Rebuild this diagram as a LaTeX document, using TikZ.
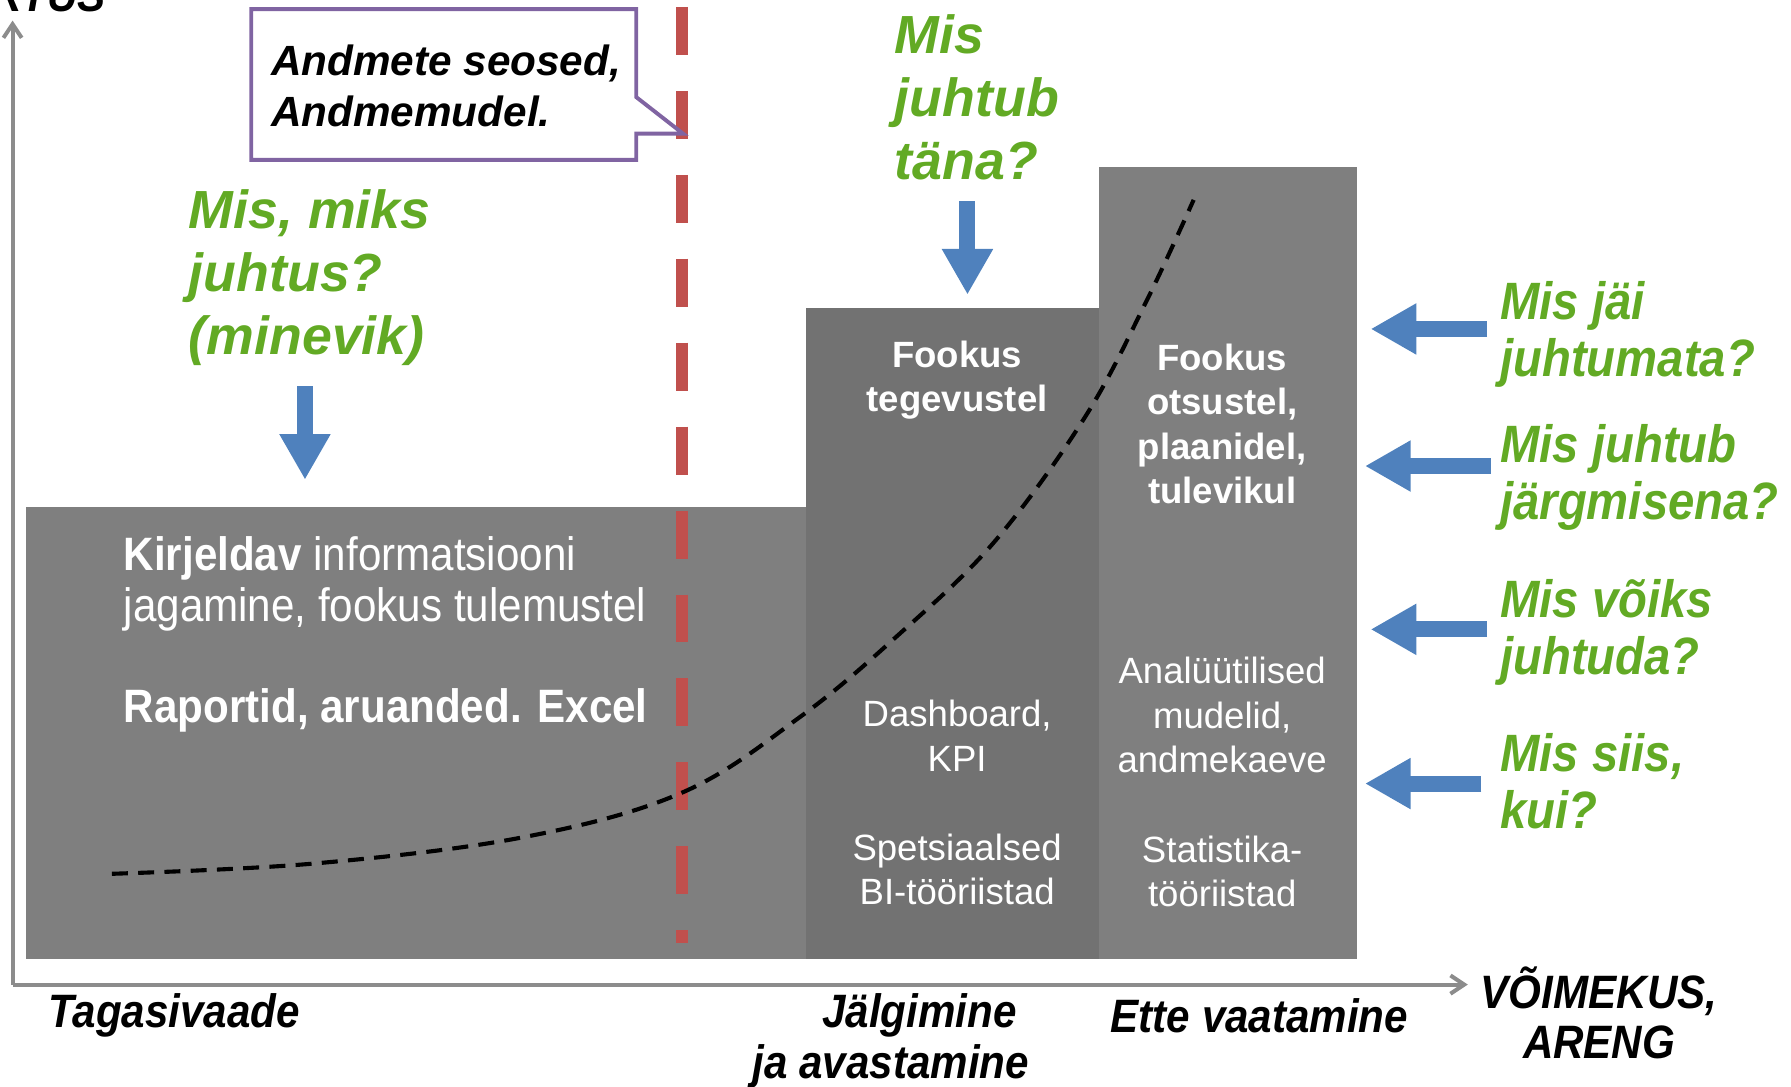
\documentclass[tikz,border=0pt]{standalone}
\usepackage{fontspec}
\setmainfont{Liberation Sans}
\newfontfamily\narrowfont[FakeStretch=0.9]{Liberation Sans}
\usetikzlibrary{arrows.meta}

\definecolor{boxgray}{HTML}{7F7F7F}
\definecolor{boxdark}{HTML}{727272}
\definecolor{axisgray}{HTML}{8C8C8C}
\definecolor{dashred}{HTML}{C0504D}
\definecolor{calloutpurple}{HTML}{8064A2}
\definecolor{qblue}{HTML}{4F81BD}
\definecolor{qgreen}{HTML}{62AA24}

\begin{document}
\begin{tikzpicture}[x=0.5pt,y=-0.5pt,
  greenq/.style={text=qgreen, font=\fontsize{23.5}{27.5}\selectfont\bfseries\itshape, align=left, inner sep=0pt, anchor=west},
  greenqn/.style={text=qgreen, font=\narrowfont\fontsize{23}{25}\selectfont\bfseries\itshape, align=left, inner sep=0pt, anchor=west},
  boxtext/.style={text=white, font=\fontsize{16}{19.5}\selectfont, align=center, inner sep=0pt},
  boxhead/.style={text=white, font=\fontsize{16}{19.5}\selectfont\bfseries, align=center, inner sep=0pt},
  lefttext/.style={text=white, font=\narrowfont\fontsize{20.5}{22.5}\selectfont, align=left, inner sep=0pt, anchor=west},
  axislabel/.style={font=\narrowfont\fontsize{20.5}{22}\selectfont\bfseries\itshape, inner sep=0pt, align=center},
  calloutText/.style={font=\fontsize{18.5}{22.5}\selectfont\bfseries\itshape, align=left, inner sep=0pt, anchor=west},
  qarrow/.style={qblue, line width=7pt, line cap=butt, -{Triangle[length=20pt,width=21pt]}},
  axisline/.style={axisgray, line width=1.75pt, -{Straight Barb[length=6pt,width=8pt]}},
  timeline/.style={dashred, line width=5pt, dash pattern=on 21pt off 15.75pt},
  trend/.style={black, line width=1.8pt, dash pattern=on 7pt off 4.5pt},
]
\useasboundingbox (0,0) rectangle (1568,951);

% three capability stages
\fill[boxgray] (23,444) rectangle (706,840);
\fill[boxdark] (706,270) rectangle (962,840);
\fill[boxgray] (962,146) rectangle (1188,840);

% axes
\coordinate (origin) at (11,862);
\coordinate (ytop) at (11,18);
\coordinate (xend) at (1285,862);
\draw[axisline] (origin) -- (ytop);
\draw[axisline] (origin) -- (xend);
\node[axislabel, anchor=base east] (ylabel) at (93,10.5) {VÄÄRTUS};
\node[axislabel] (xlabel) at (1400,887) {VÕIMEKUS,\\ARENG};

% boundary between past and present
\coordinate (lineTop) at (597,6);
\coordinate (lineBot) at (597,826);
\draw[timeline] (lineTop) -- (lineBot);

% growth trend
\draw[trend] plot[smooth, tension=0.6] coordinates {(98,765) (275,756) (458,733) (597,694) (700,628) (783,559) (870,475) (950,365) (1004,263) (1045,175)};

% callout
\draw[calloutpurple, line width=1.7pt, fill=white, line join=miter]
  (220,8) -- (557,8) -- (557,85) -- (598,117) -- (557,117) -- (557,140) -- (220,140) -- cycle;
\node[calloutText] (callout) at (237,75) {Andmete seosed,\\Andmemudel.};

% stage texts
\node[lefttext] (descr) at (108,511) {\textbf{Kirjeldav} informatsiooni\\jagamine, fookus tulemustel};
\node[lefttext, font=\narrowfont\fontsize{20.5}{22.5}\selectfont\bfseries] (reports) at (108,622) {Raportid, aruanded. Excel};

\node[boxhead] (midhead) at (838,333) {Fookus\\tegevustel};
\node[boxtext] (dash) at (838,644) {Dashboard,\\KPI};
\node[boxtext] (bitools) at (838,761) {Spetsiaalsed\\BI-tööriistad};

\node[boxhead] (righthead) at (1070,371) {Fookus\\otsustel,\\plaanidel,\\tulevikul};
\node[boxtext] (models) at (1070,626) {Analüütilised\\mudelid,\\andmekaeve};
\node[boxtext] (stats) at (1070,763) {Statistika-\\tööriistad};

% questions
\node[greenq] (qpast) at (165,243) {Mis, miks\\juhtus?\\(minevik)};
\node[greenq] (qtoday) at (783,85) {Mis\\juhtub\\täna?};
\node[greenqn] (q1) at (1313,293) {Mis jäi\\juhtumata?};
\node[greenqn] (q2) at (1313,418) {Mis juhtub\\järgmisena?};
\node[greenqn] (q3) at (1313,554) {Mis võiks\\juhtuda?};
\node[greenqn] (q4) at (1313,684) {Mis siis,\\kui?};

% question arrows
\coordinate (aPastT) at (267,338);  \coordinate (aPastH) at (267,420);
\coordinate (aTodayT) at (847,176); \coordinate (aTodayH) at (847,258);
\coordinate (a1T) at (1302,288); \coordinate (a1H) at (1200,288);
\coordinate (a2T) at (1305,408); \coordinate (a2H) at (1195,408);
\coordinate (a3T) at (1302,551); \coordinate (a3H) at (1200,551);
\coordinate (a4T) at (1297,686); \coordinate (a4H) at (1195,686);
\draw[qarrow] (aPastT) -- (aPastH);
\draw[qarrow] (aTodayT) -- (aTodayH);
\draw[qarrow] (a1T) -- (a1H);
\draw[qarrow] (a2T) -- (a2H);
\draw[qarrow] (a3T) -- (a3H);
\draw[qarrow] (a4T) -- (a4H);

% stage names
\node[axislabel, anchor=west] (back) at (42,889) {Tagasivaade};
\node[axislabel] (track1) at (805,889) {Jälgimine};
\node[axislabel] (track2) at (780,934) {ja avastamine};
\node[axislabel, anchor=west] (ahead) at (972,889) {Ette vaatamine};
\end{tikzpicture}
\end{document}
